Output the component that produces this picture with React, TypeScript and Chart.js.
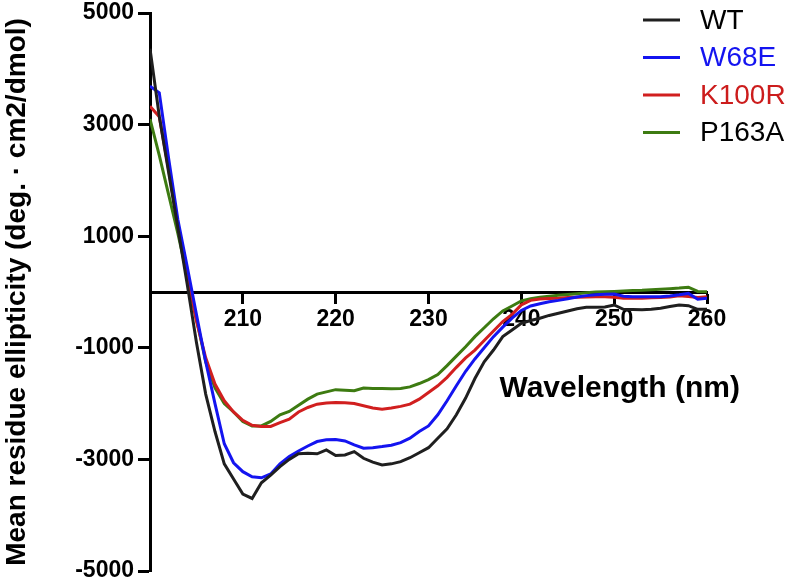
import { useEffect, useRef } from "react";
import { Chart, registerables } from "chart.js";

Chart.register(...registerables);

const wavelengths = [
  200, 201, 202, 203, 204, 205, 206, 207, 208, 209,
  210, 211, 212, 213, 214, 215, 216, 217, 218, 219,
  220, 221, 222, 223, 224, 225, 226, 227, 228, 229,
  230, 231, 232, 233, 234, 235, 236, 237, 238, 239,
  240, 241, 242, 243, 244, 245, 246, 247, 248, 249,
  250, 251, 252, 253, 254, 255, 256, 257, 258, 259, 260,
];

const wtValues = [
  4360, 3150, 2150, 1150, 150, -900, -1830, -2500, -3080, -3350,
  -3620, -3700, -3420, -3280, -3130, -3000, -2900, -2890, -2900, -2830,
  -2930, -2920, -2860, -2980, -3050, -3100, -3080, -3040, -2970, -2880,
  -2790, -2620, -2450, -2200, -1900, -1550, -1250, -1040, -800, -680,
  -560, -510, -470, -420, -380, -340, -300, -275, -275, -270,
  -233, -310, -315, -320, -310, -290, -260, -233, -245, -310, -310,
];

const w68eValues = [
  3690, 3570, 2400, 1300, 460, -400, -1250, -2000, -2720, -3060,
  -3220, -3310, -3330, -3260, -3080, -2950, -2850, -2760, -2680, -2650,
  -2645, -2670, -2740, -2800, -2790, -2770, -2745, -2700, -2620, -2500,
  -2400, -2200, -1950, -1680, -1420, -1200, -1000, -800, -630, -470,
  -330, -250, -210, -175, -150, -120, -90, -65, -50, -40,
  -36, -75, -84, -86, -86, -84, -70, -50, -25, -130, -113,
];

const k100rValues = [
  3330, 3140, 2200, 1200, 300, -520, -1180, -1650, -1950, -2150,
  -2300, -2390, -2410, -2410, -2340, -2280, -2150, -2070, -2010, -1990,
  -1980, -1985, -2000, -2040, -2080, -2100, -2080, -2050, -2010, -1920,
  -1800, -1680, -1530, -1350, -1180, -1040, -870, -700, -530, -400,
  -230, -150, -125, -115, -110, -100, -92, -88, -84, -84,
  -95, -110, -112, -110, -105, -100, -90, -66, -80, -100, -84,
];

const p163aValues = [
  3100, 2450, 1750, 1050, 300, -480, -1250, -1720, -2000, -2150,
  -2320, -2400, -2400, -2320, -2200, -2140, -2030, -1920, -1830, -1790,
  -1750, -1760, -1770, -1720, -1730, -1730, -1735, -1730, -1700, -1640,
  -1570, -1480, -1320, -1150, -980, -800, -640, -480, -340, -250,
  -160, -120, -95, -75, -60, -45, -30, -15, 0, 5,
  10, 18, 25, 30, 40, 50, 60, 70, 85, 10, 5,
];

const seriesLabels = ["WT", "W68E", "K100R", "P163A"];
const seriesValues = [wtValues, w68eValues, k100rValues, p163aValues];
const lineColors = ["#1f1f1f", "#1414f0", "#d11f1f", "#3d7b11"];
const legendTextColors = ["#000000", "#1414f0", "#cc1c1c", "#000000"];

const xTicks = [210, 220, 230, 240, 250, 260];
const yTicks = [-5000, -3000, -1000, 1000, 3000, 5000];
const xTitle = "Wavelength (nm)";
const yTitle = "Mean residue ellipticity (deg. \u00b7 cm2/dmol)";

const FONT = '"Liberation Sans", Arial, sans-serif';

const overlayPlugin = {
  id: "overlay",
  afterDraw(chart: any) {
    const ctx = chart.ctx;
    ctx.save();
    chart.data.datasets.forEach((ds: any, i: number) => {
      const y = 20 + i * 37.5;
      ctx.strokeStyle = ds.borderColor;
      ctx.lineWidth = 3;
      ctx.beginPath();
      ctx.moveTo(643, y);
      ctx.lineTo(680, y);
      ctx.stroke();
      ctx.fillStyle = legendTextColors[i];
      ctx.font = `28px ${FONT}`;
      ctx.textBaseline = "middle";
      ctx.textAlign = "left";
      ctx.fillText(ds.label, 700, y + 1);
    });
    ctx.font = `bold 30px ${FONT}`;
    ctx.fillStyle = "#000";
    ctx.textAlign = "right";
    ctx.textBaseline = "middle";
    ctx.fillText(xTitle, 740, 389);
    ctx.restore();
  },
};

export default function App() {
  const ref = useRef<HTMLCanvasElement | null>(null);

  useEffect(() => {
    document.body.style.margin = "0";
    const canvas = ref.current;
    if (!canvas) return;
    const chart = new Chart(canvas, {
      type: "line",
      data: {
        datasets: seriesLabels.map((label, i) => ({
          label,
          data: wavelengths.map((w, j) => ({ x: w, y: seriesValues[i][j] })),
          borderColor: lineColors[i],
          backgroundColor: lineColors[i],
          borderWidth: 3,
          pointRadius: 0,
          tension: 0,
          fill: false,
        })),
      },
      options: {
        responsive: false,
        animation: false,
        layout: { padding: { left: 0, right: 81, top: 13, bottom: 11 } },
        plugins: {
          legend: { display: false },
          tooltip: { enabled: false },
        },
        scales: {
          x: {
            type: "linear",
            position: { y: 0 } as any,
            min: 200,
            max: 260,
            afterBuildTicks: (scale: any) => {
              scale.ticks = xTicks.map((v) => ({ value: v }));
            },
            afterFit: (scale: any) => {
              scale.paddingLeft = 0;
              scale.paddingRight = 0;
            },
            grid: {
              drawOnChartArea: false,
              drawTicks: true,
              tickLength: 10,
              tickWidth: 3,
              tickColor: "#000",
            },
            border: { display: true, color: "#000", width: 3 },
            ticks: {
              color: "#000",
              padding: 4,
              font: { family: FONT, size: 23, weight: "bold" },
              maxRotation: 0,
              callback: (v: any) => String(v),
            },
          },
          y: {
            type: "linear",
            position: "left",
            min: -5000,
            max: 5000,
            afterBuildTicks: (scale: any) => {
              scale.ticks = yTicks.map((v) => ({ value: v }));
            },
            afterFit: (scale: any) => {
              scale.width = 150;
              scale.paddingTop = 0;
              scale.paddingBottom = 0;
            },
            grid: {
              drawOnChartArea: false,
              drawTicks: true,
              tickLength: 12,
              tickWidth: 3,
              tickColor: "#000",
            },
            border: { display: true, color: "#000", width: 3 },
            ticks: {
              color: "#000",
              padding: 4,
              font: { family: FONT, size: 23, weight: "bold" },
              callback: (v: any) => String(v),
            },
            title: {
              display: true,
              text: yTitle,
              color: "#000",
              font: { family: FONT, size: 28, weight: "bold" },
              padding: { top: 0, bottom: 0 },
            },
          },
        },
      },
      plugins: [overlayPlugin],
    });
    return () => chart.destroy();
  }, []);

  return (
    <div style={{ width: 788, height: 582 }}>
      <canvas ref={ref} width={788} height={582} style={{ display: "block" }} />
    </div>
  );
}
